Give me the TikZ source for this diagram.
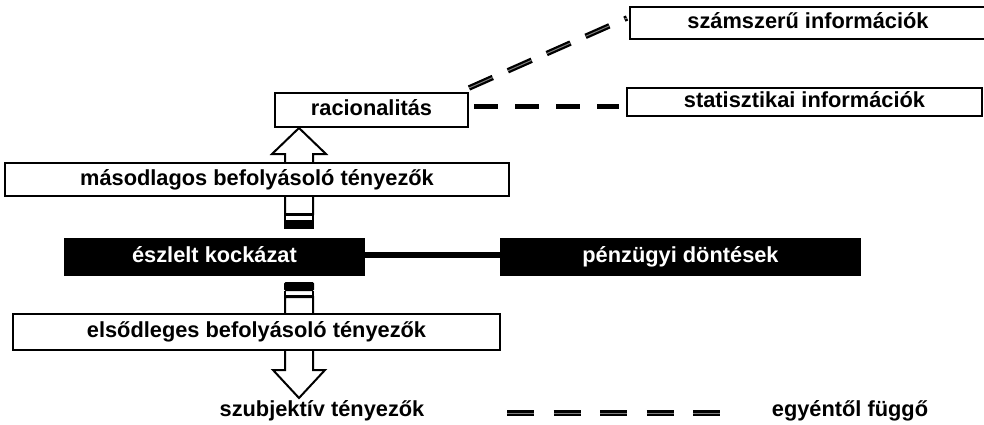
\documentclass[tikz,border=0pt]{standalone}
\usepackage{fontspec}
\setmainfont{Liberation Sans}
\usetikzlibrary{calc}
\begin{document}
\begin{tikzpicture}[x=1pt,y=-1pt,
  txt/.style={font=\fontsize{21.8}{26}\selectfont\bfseries, inner sep=0pt, text height=15.5pt, text depth=4.5pt},
  wbox/.style={txt, draw=black, line width=2pt, fill=white},
  bbox/.style={txt, fill=black, text=white},
  blockarrow/.style={draw=black, line width=2pt, fill=white, line join=miter},
  stripe/.style={fill=black, draw=none},
  thickdash/.style={line width=5pt, dash pattern=on 24pt off 17pt},
  graydash/.style={line width=1pt, draw=black!50, dash pattern=#1,
     preaction={draw=black, line width=5.5pt, dash pattern=#1}},
]
\useasboundingbox (0,0) rectangle (984,425);

% ---- block arrows (drawn behind the boxes)
\coordinate (uptip) at (299,128);
\coordinate (uptail) at (299,229);
\path[blockarrow] ($(uptail)+(-14,-15)$) -- ($(uptip)+(-14,26)$) -- ($(uptip)+(-27,26)$) -- (uptip)
  -- ($(uptip)+(27,26)$) -- ($(uptip)+(14,26)$) -- ($(uptail)+(14,-15)$) -- cycle;
\draw[line width=2pt] ($(uptail)+(-14,-15)$) -- ($(uptail)+(-14,0)$) ($(uptail)+(14,-15)$) -- ($(uptail)+(14,0)$);
\fill[stripe] ($(uptail)+(-15,-16)$) rectangle ($(uptail)+(15,-13)$);
\fill[stripe] ($(uptail)+(-15,-9)$) rectangle ($(uptail)+(15,0)$);

\coordinate (dntail) at (299,282);
\coordinate (dntip) at (299,398);
\path[blockarrow] ($(dntail)+(-14,15)$) -- ($(dntip)+(-14,-28)$) -- ($(dntip)+(-26,-28)$) -- (dntip)
  -- ($(dntip)+(26,-28)$) -- ($(dntip)+(14,-28)$) -- ($(dntail)+(14,15)$) -- cycle;
\fill[stripe, rounded corners=1.5pt] ($(dntail)+(-15,9)$) -- ($(dntail)+(-15,0)$) -- ($(dntail)+(15,0)$) -- ($(dntail)+(15,9)$) -- cycle;
\fill[stripe] ($(dntail)+(-15,9)$) rectangle ($(dntail)+(-13,16)$);
\fill[stripe] ($(dntail)+(13,9)$) rectangle ($(dntail)+(15,16)$);
\fill[stripe] ($(dntail)+(-15,13)$) rectangle ($(dntail)+(15,16)$);

% ---- boxes
\node[wbox, minimum width=356pt, minimum height=32pt] (szam) at (808,23) {számszerű információk};
\node[wbox, minimum width=355pt, minimum height=28pt] (stat) at (804.5,102) {statisztikai információk};
\node[wbox, minimum width=193pt, minimum height=34pt] (rac) at (371.5,110) {racionalitás};
\node[wbox, minimum width=504pt, minimum height=33pt] (mas) at (257,179.5) {másodlagos befolyásoló tényezők};
\node[bbox, minimum width=301pt, minimum height=38pt] (esz) at (214.5,257) {észlelt kockázat};
\node[bbox, minimum width=361pt, minimum height=38pt] (pen) at (680.5,257) {pénzügyi döntések};
\node[wbox, minimum width=487pt, minimum height=36pt] (els) at (256.5,332) {elsődleges befolyásoló tényezők};
\node[txt] (szub) at (322,411) {szubjektív tényezők};
\node[txt] (egy) at (850,411) {egyéntől függő};

% ---- connectors
\draw[line width=6.5pt] ([yshift=2pt]esz.east) -- ([yshift=2pt]pen.west);
\draw[thickdash] ([shift={(5pt,3pt)}]rac.east) -- ([shift={(-7pt,-5pt)}]stat.west);
\draw[graydash={on 26pt off 16.5pt}] ([shift={(0pt,4pt)}]rac.north east) -- ([shift={(-2pt,5pt)}]szam.west);
\coordinate (lg1) at (507,413);
\coordinate (lg2) at (720,413);
\draw[graydash={on 27pt off 19.5pt}] (lg1) -- (lg2);
\end{tikzpicture}
\end{document}
